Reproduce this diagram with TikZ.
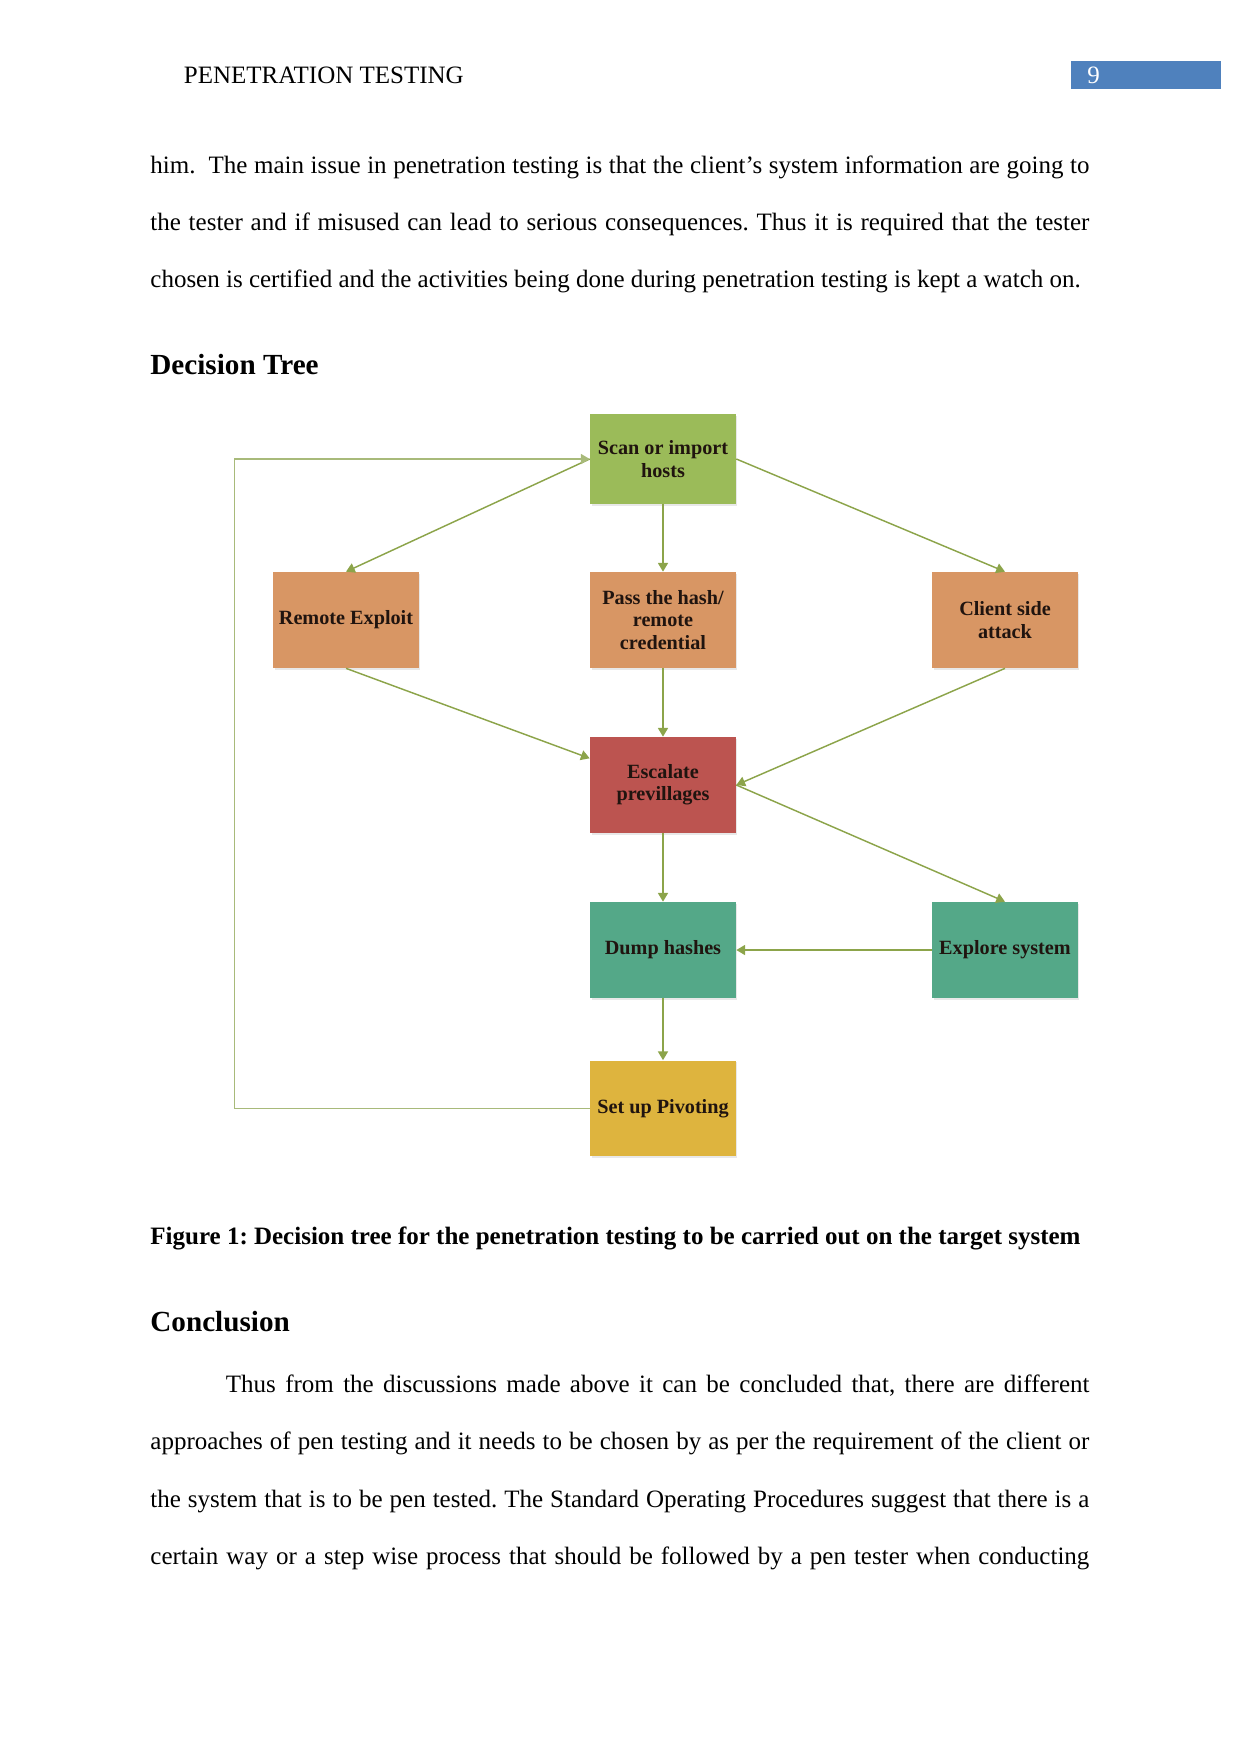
\documentclass[tikz,border=0pt]{standalone}
\usepackage{fontspec}
\setmainfont{Liberation Serif}
\usetikzlibrary{arrows.meta,shadows}
\frenchspacing

\definecolor{scangreen}{RGB}{155,187,89}
\definecolor{attackorange}{RGB}{216,150,100}
\definecolor{escalatered}{RGB}{188,84,80}
\definecolor{hashteal}{RGB}{84,168,136}
\definecolor{pivotgold}{RGB}{222,180,62}
\definecolor{flowgreen}{RGB}{140,164,74}
\definecolor{loopgreen}{RGB}{168,186,122}
\definecolor{boxtext}{RGB}{32,20,15}
\definecolor{headerblue}{RGB}{79,129,189}

\newcommand{\fillline}[2][450.7pt]{\hbox to #1{#2}}

\begin{document}
\begin{tikzpicture}[x=0.48pt, y=-0.48pt, >={Triangle[length=4.2pt,width=4.8pt]},
  box/.style={minimum width=70pt, minimum height=46pt, inner sep=1pt, align=center,
    font=\fontsize{9.7}{10.7}\selectfont\bfseries, text=boxtext,
    drop shadow={shadow xshift=0.7pt, shadow yshift=-0.9pt, opacity=0.18}},
  flow/.style={->, draw=flowgreen, line width=0.7pt},
  body/.style={anchor=base west, inner sep=0pt, font=\fontsize{12}{14}\selectfont},
  heading/.style={anchor=base west, inner sep=0pt, font=\fontsize{14}{16}\selectfont\bfseries}]
\useasboundingbox (0,0) rectangle (1241,1754);

% page header
\node[body] (header) at (183.5,83) {PENETRATION TESTING};
\fill[headerblue] (1071,61) rectangle (1221,89);
\node[body, text=white] (pagenum) at (1087,83) {9};

% text before the figure
\node[body] (para1a) at (150,173) {\fillline{him.\ \ The main issue in penetration testing is that the client’s system information are going to}};
\node[body] (para1b) at (150,230) {\fillline{the tester and if misused can lead to serious consequences. Thus it is required that the tester}};
\node[body] (para1c) at (150,287) {chosen is certified and the activities being done during penetration testing is kept a watch on.};
\node[heading] (treehead) at (150,374) {Decision Tree};

% the tree
\node[box, fill=scangreen, minimum height=43.2pt] (scan) at (663,459) {Scan or import\\hosts};
\node[box, fill=attackorange] (remote) at (346,620) {Remote Exploit};
\node[box, fill=attackorange] (pass) at (663,620) {Pass the hash/\\remote\\credential};
\node[box, fill=attackorange] (client) at (1005,620) {Client side\\attack};
\node[box, fill=escalatered] (escalate) at (663,785) {Escalate\\previllages};
\node[box, fill=hashteal] (dump) at (663,950) {Dump hashes};
\node[box, fill=hashteal] (explore) at (1005,950) {Explore system};
\node[box, fill=pivotgold] (pivot) at (663,1108.5) {Set up Pivoting};

\draw[flow] (scan.west) -- (remote.north);
\draw[flow] (scan.south) -- (pass.north);
\draw[flow] (scan.east) -- (client.north);
\draw[flow] (remote.south) -- (escalate.160);
\draw[flow] (pass.south) -- (escalate.north);
\draw[flow] (client.south) -- (escalate.east);
\draw[flow] (escalate.east) -- (explore.north);
\draw[flow] (escalate.south) -- (dump.north);
\draw[flow] (explore.west) -- (dump.east);
\draw[flow] (dump.south) -- (pivot.north);
\draw[flow, draw=loopgreen] (pivot.west) -- ++(-355,0) |- (scan.west);

% caption and conclusion
\node[body, font=\fontsize{12}{14}\selectfont\bfseries] (caption) at (150,1244) {Figure 1: Decision tree for the penetration testing to be carried out on the target system};
\node[heading] (conchead) at (150,1331) {Conclusion};
\node[body] (conca) at (225.5,1392) {\fillline[414.5pt]{Thus from the discussions made above it can be concluded that, there are different}};
\node[body] (concb) at (150,1449) {\fillline{approaches of pen testing and it needs to be chosen by as per the requirement of the client or}};
\node[body] (concc) at (150,1507) {\fillline{the system that is to be pen tested. The Standard Operating Procedures suggest that there is a}};
\node[body] (concd) at (150,1564) {\fillline{certain way or a step wise process that should be followed by a pen tester when conducting}};
\end{tikzpicture}
\end{document}
